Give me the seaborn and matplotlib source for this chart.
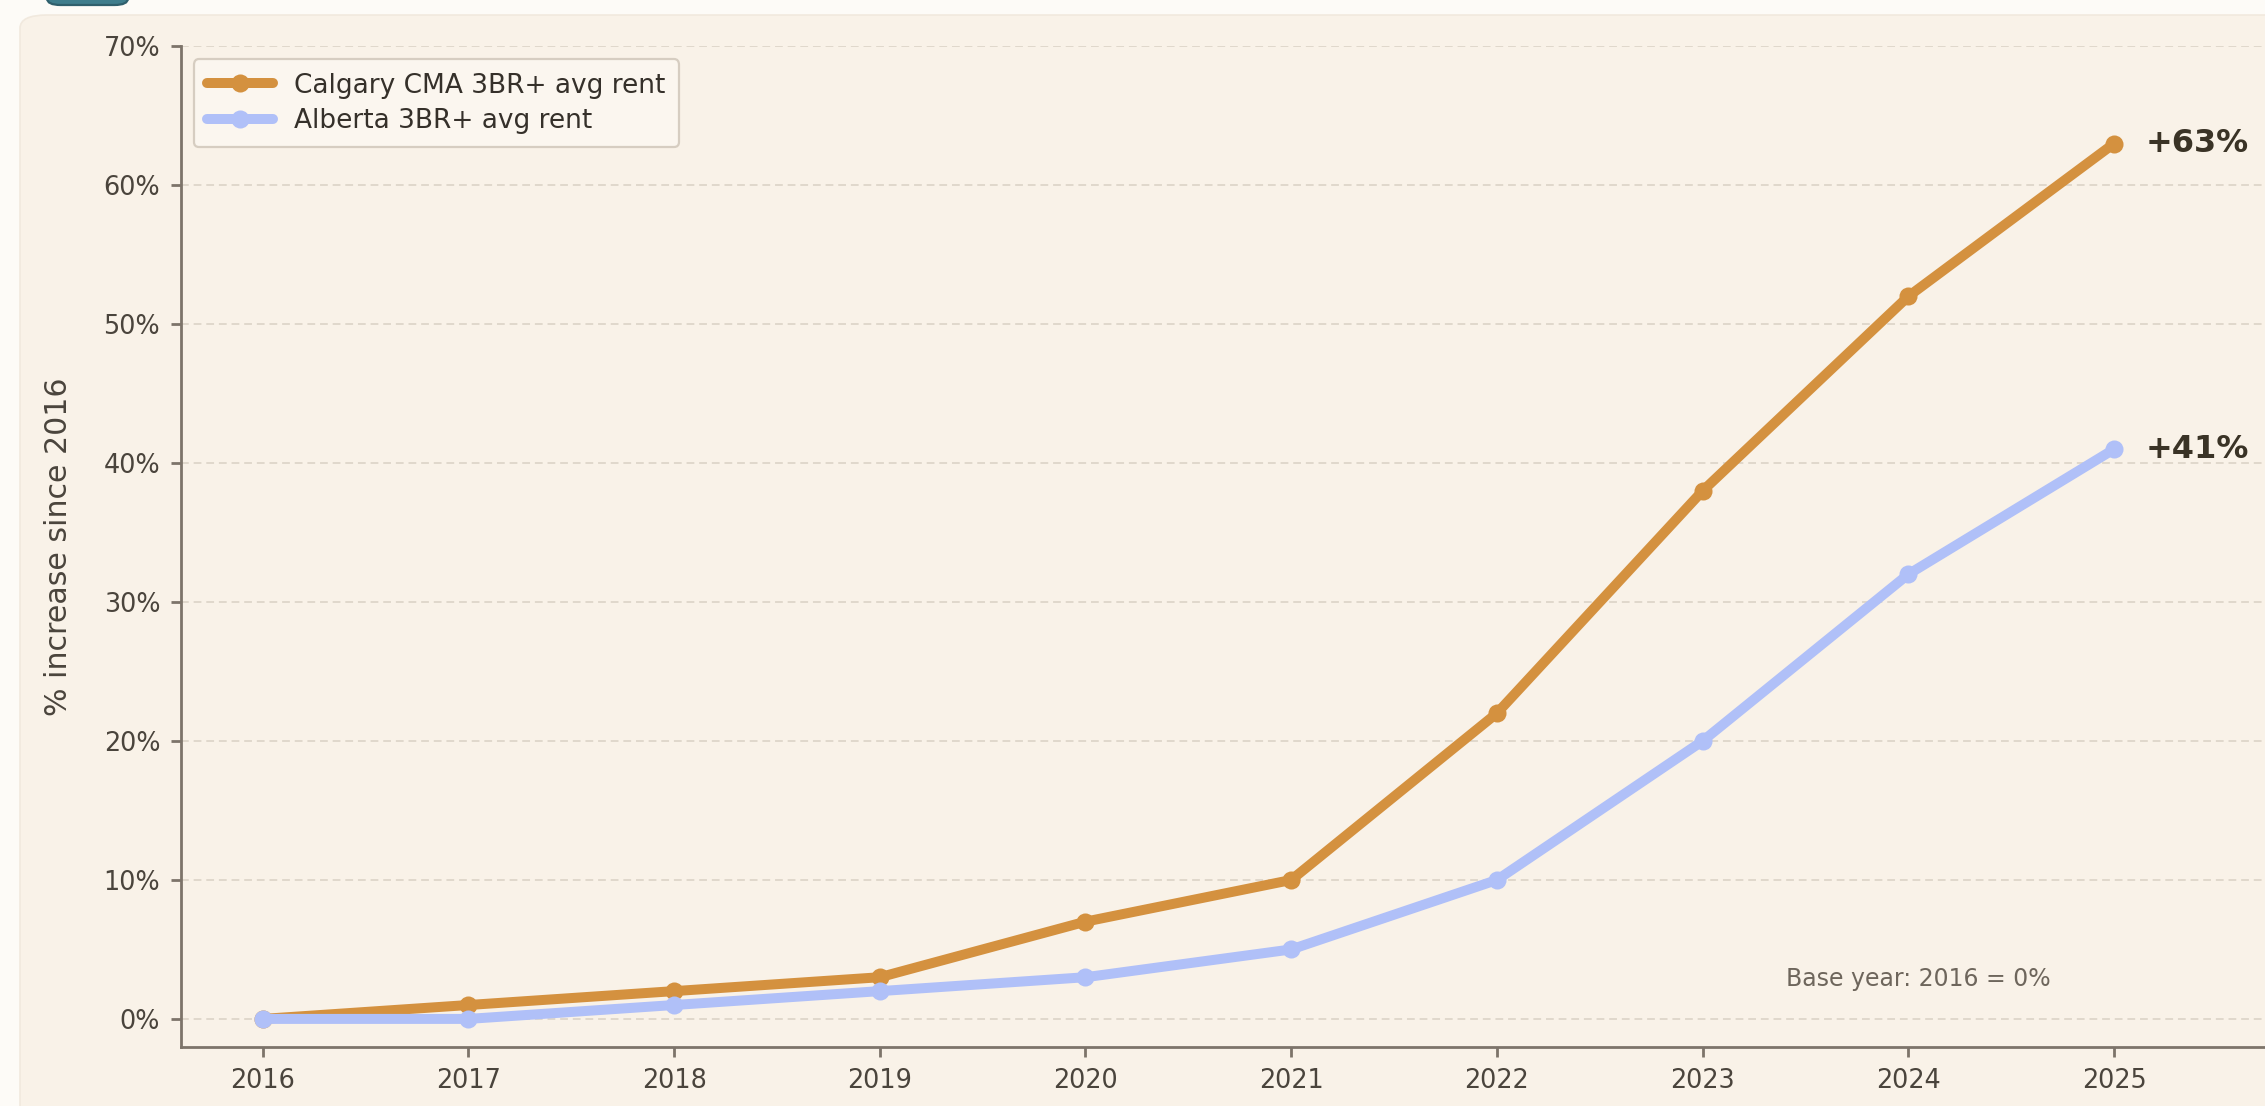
import matplotlib
matplotlib.use("Agg")
import matplotlib.pyplot as plt
from matplotlib.patches import FancyBboxPatch
import seaborn as sns
import pandas as pd

# ---- data ----
years = [2016, 2017, 2018, 2019, 2020, 2021, 2022, 2023, 2024, 2025]
calgary = [0, 1, 2, 3, 7, 10, 22, 38, 52, 63]
alberta = [0, 0, 1, 2, 3, 5, 10, 20, 32, 41]
series_names = ["Calgary CMA 3BR+ avg rent", "Alberta 3BR+ avg rent"]
y_ticks = [0, 10, 20, 30, 40, 50, 60, 70]
y_label = "% increase since 2016"
note_text = "Base year: 2016 = 0%"

df = pd.concat([
    pd.DataFrame({"year": years, "pct": calgary, "series": series_names[0]}),
    pd.DataFrame({"year": years, "pct": alberta, "series": series_names[1]}),
])

PAGE = "#fdfbf7"
PANEL = "#f9f2e8"
SPINE = "#7d746a"
TXT = "#4a443c"
palette = {series_names[0]: "#d4913f", series_names[1]: "#b0c0f8"}

sns.set_theme(style="white")
plt.rcParams["font.family"] = ["DejaVu Sans"]

fig = plt.figure(figsize=(11.325, 5.53), dpi=200)
fig.patch.set_facecolor(PAGE)

# panel background (card) and teal button peeking at top
W, H = 2265, 1106
panel = FancyBboxPatch((20 / W, -0.05), 1.2, (1106 - 15) / H + 0.05,
                       boxstyle="round,pad=0,rounding_size=0.012",
                       transform=fig.transFigure, facecolor=PANEL,
                       edgecolor="#f1e9de", linewidth=0.6, zorder=0)
fig.add_artist(panel)
btn = FancyBboxPatch((47 / W, (1106 - 5) / H), 81 / W, 0.05,
                     boxstyle="round,pad=0,rounding_size=0.006",
                     transform=fig.transFigure, facecolor="#3f7d8c",
                     edgecolor="#2f5f6c", linewidth=0.8, zorder=0)
fig.add_artist(btn)

ax = fig.add_axes([181 / W, 1 - 1046.7 / H, 1 - 181 / W, (1046.7 - 46.3) / H])
ax.set_facecolor(PANEL)
ax.patch.set_alpha(0)

sns.lineplot(data=df, x="year", y="pct", hue="series", palette=palette,
             marker="o", markersize=6.5, markeredgewidth=0, linewidth=3.6,
             ax=ax, zorder=3)

ax.set_xlim(2015.603, 2025.734)
ax.set_ylim(-2, 70)
ax.set_xticks(years)
ax.set_xticklabels([str(y) for y in years])
ax.set_yticks(y_ticks)
ax.set_yticklabels([f"{v}%" for v in y_ticks])

ax.grid(axis="y", linestyle=(0, (4, 2.5)), color="#e0d8cc", linewidth=0.7, zorder=0)
ax.grid(axis="x", visible=False)

for s in ["top", "right"]:
    ax.spines[s].set_visible(False)
for s in ["left", "bottom"]:
    ax.spines[s].set_color(SPINE)
    ax.spines[s].set_linewidth(1.0)

ax.tick_params(axis="both", which="major", length=3.5, width=1.0, color=SPINE,
               labelsize=9.2, labelcolor=TXT, pad=4, left=True, bottom=True)

ax.set_xlabel("")
ax.set_ylabel(y_label, fontsize=10.8, color=TXT, labelpad=11)

leg = ax.legend(loc="upper left", fontsize=9.5, frameon=True,
                facecolor="#fbf6ef", edgecolor="#d6cdc1", framealpha=1,
                handlelength=2.5, borderpad=0.5, labelspacing=0.35)
leg.get_frame().set_linewidth(0.8)
for t in leg.get_texts():
    t.set_color("#35302a")

# end labels
for vals, name in [(calgary, series_names[0]), (alberta, series_names[1])]:
    ax.annotate(f"+{vals[-1]}%", xy=(years[-1], vals[-1]), xytext=(11.5, 0),
                textcoords="offset points", ha="left", va="center",
                fontsize=11.5, fontweight="bold", color="#3a3326")

ax.text(0.770, 0.0677, note_text, transform=ax.transAxes, ha="left",
        va="center", fontsize=8.5, color="#6e665c")

fig.savefig("out.png", dpi=200, facecolor=PAGE)
